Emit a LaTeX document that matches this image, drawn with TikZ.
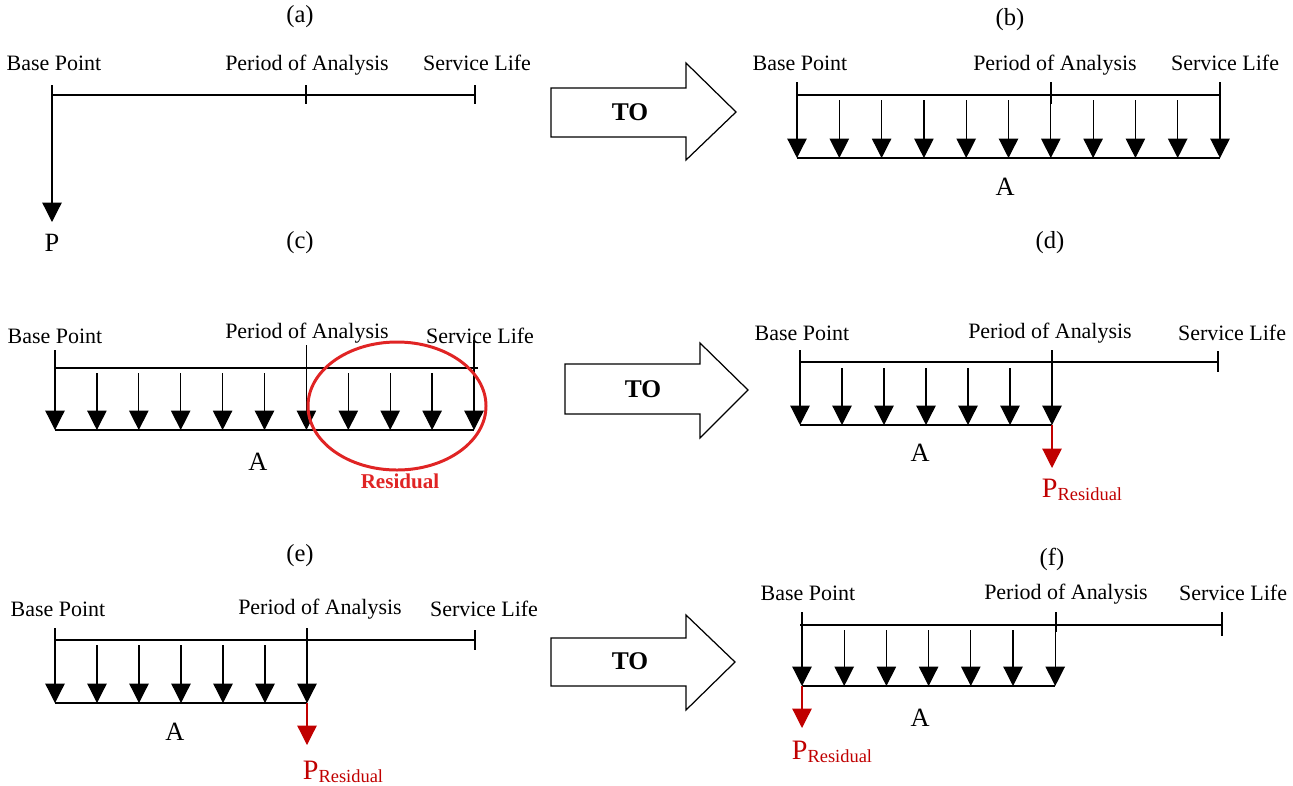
\documentclass[tikz,border=0pt]{standalone}
\usepackage{fontspec}
\setmainfont{Liberation Serif}
\usepackage{tikz}
\usetikzlibrary{arrows.meta}
\definecolor{red700}{HTML}{C00000}
\definecolor{red500}{HTML}{E02424}
\tikzstyle{axis}=[draw=black, line width=0.8pt]
\tikzstyle{flow}=[draw=black, line width=0.7pt, -{Triangle[width=11pt,length=11pt]}]
\tikzstyle{resid}=[flow, draw=red700]
\tikzstyle{lbl}=[font=\fontsize{12.5}{14}\selectfont, inner sep=0pt]
\tikzstyle{tag}=[font=\fontsize{14}{16}\selectfont, inner sep=0pt]
\tikzstyle{sym}=[font=\fontsize{15}{17}\selectfont, inner sep=0pt]
\tikzstyle{bigarrow}=[draw=black, line width=0.7pt, fill=white]
\newcommand{\pres}{{\fontsize{16}{18}\selectfont P}\raisebox{-0.45ex}{\fontsize{10.5}{12}\selectfont Residual}}

\begin{document}
\begin{tikzpicture}[x=0.02cm, y=-0.02cm]
\useasboundingbox (0,0) rectangle (1293,785);

% (a)
\node[tag] (a-tag) at (300,17) {(a)};
\node[lbl] (a-bpl) at (54,63) {Base Point};
\node[lbl] (a-poal) at (307,65) {Period of Analysis};
\node[lbl] (a-sll) at (477,63) {Service Life};
\coordinate (a-bp) at (52,95);
\coordinate (a-poa) at (306,95);
\coordinate (a-sl) at (475,95);
\coordinate (a-top) at (52,85);
\coordinate (a-tip) at (52,222);
\path[axis] (a-bp)--(a-sl) (a-poa)+(0,-10)--+(0,9) (a-sl)+(0,-10)--+(0,9);
\path[flow] (a-top)--(a-tip);
\node[sym] (a-p) at (52,243) {P};

% TO arrow 1
\path[bigarrow] (551,88)--(686,88)--(686,63)--(736,112)--(686,160)--(686,137)--(551,137)--cycle;
\node[font=\fontsize{14.5}{16}\selectfont\bfseries] (to1) at (630,112) {TO};

% (b)
\node[tag] (b-tag) at (1010,20) {(b)};
\node[lbl] (b-bpl) at (800,63) {Base Point};
\node[lbl] (b-poal) at (1055,65) {Period of Analysis};
\node[lbl] (b-sll) at (1225,63) {Service Life};
\coordinate (b-bp) at (797,95);
\coordinate (b-poa) at (1051,95);
\coordinate (b-sl) at (1220,95);
\path[axis] (b-bp)--(b-sl) (b-poa)+(0,-13)--+(0,9);
\foreach \x/\y [count=\i] in {797/82, 839.3/100, 881.6/100, 923.9/100, 966.2/100, 1008.5/100, 1050.8/82, 1093.1/100, 1135.4/100, 1177.7/100, 1220/82} {
  \coordinate (b-s\i) at (\x,\y);
  \coordinate (b-e\i) at (\x,158);
  \path[flow] (b-s\i)--(b-e\i);
}
\path[axis] (b-e1)--(b-e11);
\node[sym] (b-a) at (1005,187) {A};

% (c)
\node[tag] (c-tag) at (300,243) {(c)};
\node[lbl] (c-bpl) at (55,336) {Base Point};
\node[lbl] (c-poal) at (307,333) {Period of Analysis};
\node[lbl] (c-sll) at (480,336) {Service Life};
\coordinate (c-bp) at (55,368);
\coordinate (c-sl) at (478,368);
\path[axis] (c-bp)--(c-sl);
\foreach \x/\y [count=\i] in {55/350, 96.9/373, 138.8/373, 180.7/373, 222.6/373, 264.5/373, 306.4/345, 348.3/373, 390.2/373, 432.1/373, 474/340} {
  \coordinate (c-s\i) at (\x,\y);
  \coordinate (c-e\i) at (\x,430);
  \path[flow] (c-s\i)--(c-e\i);
}
\path[axis] (c-e1)--(c-e11);
\node[sym] (c-a) at (258,462) {A};
\coordinate (c-res) at (397,406);
\draw[red500, line width=1.7pt] (c-res) ellipse [x radius=89, y radius=64];
\node[font=\fontsize{12}{14}\selectfont\bfseries, text=red500, inner sep=0pt] (c-resl) at (400,481) {Residual};

% TO arrow 2
\path[bigarrow] (565,364)--(700,364)--(700,343)--(748,390)--(700,438)--(700,414)--(565,414)--cycle;
\node[font=\fontsize{14.5}{16}\selectfont\bfseries] (to2) at (643,389) {TO};

% (d)
\node[tag] (d-tag) at (1050,243) {(d)};
\node[lbl] (d-bpl) at (802,333) {Base Point};
\node[lbl] (d-poal) at (1050,333) {Period of Analysis};
\node[lbl] (d-sll) at (1232,333) {Service Life};
\coordinate (d-bp) at (800,362);
\coordinate (d-sl) at (1218,362);
\path[axis] (d-bp)--(d-sl) (d-sl)+(0,-11)--+(0,10);
\foreach \x/\y [count=\i] in {800/350, 842/368, 884/368, 926/368, 968/368, 1010/368, 1052/350} {
  \coordinate (d-s\i) at (\x,\y);
  \coordinate (d-e\i) at (\x,425);
  \path[flow] (d-s\i)--(d-e\i);
}
\path[axis] (d-e1)--(d-e7);
\coordinate (d-rt) at (1052,468);
\path[resid] (d-e7)--(d-rt);
\node[sym] (d-a) at (920,453) {A};
\node[text=red700, inner sep=0pt] (d-pr) at (1082,490) {\pres};

% (e)
\node[tag] (e-tag) at (300,556) {(e)};
\node[lbl] (e-bpl) at (58,609) {Base Point};
\node[lbl] (e-poal) at (320,609) {Period of Analysis};
\node[lbl] (e-sll) at (484,609) {Service Life};
\coordinate (e-bp) at (55,640);
\coordinate (e-sl) at (475,640);
\path[axis] (e-bp)--(e-sl) (e-sl)+(0,-10)--+(0,10);
\foreach \x/\y [count=\i] in {55/628, 97/645, 139/645, 181/645, 223/645, 265/645, 307/628} {
  \coordinate (e-s\i) at (\x,\y);
  \coordinate (e-e\i) at (\x,703);
  \path[flow] (e-s\i)--(e-e\i);
}
\path[axis] (e-e1)--(e-e7);
\coordinate (e-rt) at (307,745);
\path[resid] (e-e7)--(e-rt);
\node[sym] (e-a) at (175,732) {A};
\node[text=red700, inner sep=0pt] (e-pr) at (343,772) {\pres};

% TO arrow 3
\path[bigarrow] (551,638)--(686,638)--(686,615)--(735,662)--(686,710)--(686,686)--(551,686)--cycle;
\node[font=\fontsize{14.5}{16}\selectfont\bfseries] (to3) at (630,661) {TO};

% (f)
\node[tag] (f-tag) at (1052,559) {(f)};
\node[lbl] (f-bpl) at (808,593) {Base Point};
\node[lbl] (f-poal) at (1066,594) {Period of Analysis};
\node[lbl] (f-sll) at (1233,593) {Service Life};
\coordinate (f-bp) at (800,625);
\coordinate (f-poa) at (1056,625);
\coordinate (f-sl) at (1222,625);
\path[axis] (f-bp)--(f-sl) (f-poa)+(0,-13)--+(0,7) (f-sl)+(0,-13)--+(0,11);
\foreach \x/\y [count=\i] in {802/612, 844.2/630, 886.4/630, 928.6/630, 970.8/630, 1013/630, 1055.2/630} {
  \coordinate (f-s\i) at (\x,\y);
  \coordinate (f-e\i) at (\x,686);
  \path[flow] (f-s\i)--(f-e\i);
}
\path[axis] (f-e1)--(f-e7);
\coordinate (f-rt) at (802,728);
\path[resid] (f-e1)--(f-rt);
\node[sym] (f-a) at (920,718) {A};
\node[text=red700, inner sep=0pt] (f-pr) at (832,752) {\pres};
\end{tikzpicture}
\end{document}
